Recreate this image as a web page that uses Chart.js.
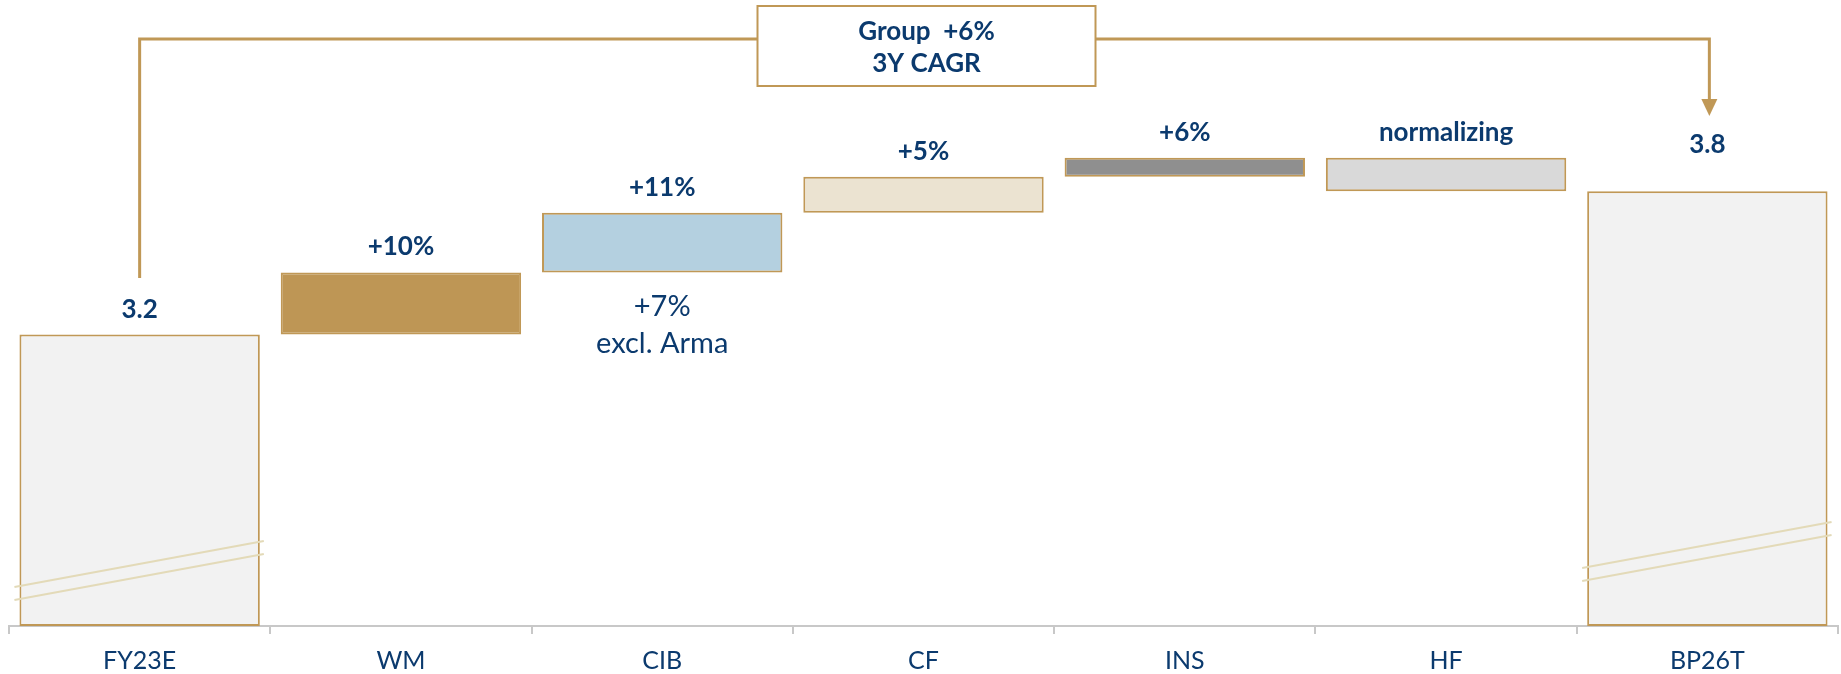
<!DOCTYPE html>
<html>
<head>
<meta charset="utf-8">
<script src="https://cdn.jsdelivr.net/npm/chart.js@4.4.1/dist/chart.umd.min.js"></script>
<style>
  html, body { margin: 0; padding: 0; background: #fff; }
  #wrap { width: 1841px; height: 674px; position: relative; }
</style>
</head>
<body>
<div id="wrap"><canvas id="chart"></canvas></div>
<script>
// data
const categories = ['FY23E', 'WM', 'CIB', 'CF', 'INS', 'HF', 'BP26T'];
const startValue = 3.2;
const deltas = [0.26, 0.25, 0.15, 0.08, -0.14];   // WM, CIB, CF, INS, HF
const endValue = 3.8;
const barLabels = ['3.2', '+10%', '+11%', '+5%', '+6%', 'normalizing', '3.8'];
const cibNote = ['+7%', 'excl. Arma'];
const groupNote = ['Group  +6%', '3Y CAGR'];

const Y_MIN = 1.98;
const Y_MAX = 4.6;

const GOLD = '#c09856';
const NAVY = '#0b3a6e';
const fills = ['#f2f2f2', '#be9655', '#b4d0e0', '#ebe3d1', '#8f8f8f', '#d9d9d9', '#f2f2f2'];

// build floating bars from the running total
const bars = [[Y_MIN, startValue]];
let running = startValue;
deltas.forEach(d => {
  bars.push([running, running + d]);
  running += d;
});
bars.push([Y_MIN, endValue]);

const FONT = 'Lato, "DejaVu Sans", sans-serif';

const labelPlugin = {
  id: 'labels',
  afterDatasetsDraw(chart) {
    const ctx = chart.ctx;
    const meta = chart.getDatasetMeta(0);
    ctx.save();
    ctx.fillStyle = NAVY;
    ctx.textAlign = 'center';
    ctx.textBaseline = 'alphabetic';
    ctx.font = 'bold 26px ' + FONT;
    meta.data.forEach((el, i) => {
      const top = Math.min(el.y, el.base);
      const gap = i === meta.data.length - 1 ? 38 : 17;
      ctx.fillText(barLabels[i], el.x, top - gap);
    });

    // note under CIB
    const cib = meta.data[2];
    const bottom = Math.max(cib.y, cib.base);
    ctx.font = '29px ' + FONT;
    ctx.fillText(cibNote[0], cib.x, bottom + 44);
    ctx.fillText(cibNote[1], cib.x, bottom + 81);

    // axis break marks on the total bars
    ctx.strokeStyle = '#e3dab8';
    ctx.lineWidth = 2;
    [[0, 39], [6, 58]].forEach(([i, dy]) => {
      const el = meta.data[i];
      const l = el.x - el.width / 2 - 5;
      const r = el.x + el.width / 2 + 4;
      for (let k = 0; k < 2; k++) {
        ctx.beginPath();
        ctx.moveTo(l, el.base - dy + k * 13);
        ctx.lineTo(r, el.base - dy - 46 + k * 13);
        ctx.stroke();
      }
    });

    // CAGR bracket
    const first = meta.data[0];
    const last = meta.data[meta.data.length - 1];
    const area = chart.chartArea;
    const cx = (area.left + area.right) / 2 + 3;
    const boxW = 338, boxH = 80, boxTop = 6;
    const lineY = 39;
    ctx.strokeStyle = GOLD;
    ctx.lineWidth = 3;
    ctx.beginPath();
    ctx.moveTo(first.x, 278);
    ctx.lineTo(first.x, lineY);
    ctx.lineTo(cx - boxW / 2, lineY);
    ctx.moveTo(cx + boxW / 2, lineY);
    ctx.lineTo(last.x + 2, lineY);
    ctx.lineTo(last.x + 2, 101);
    ctx.stroke();
    ctx.fillStyle = GOLD;
    ctx.beginPath();
    ctx.moveTo(last.x + 2 - 8, 99);
    ctx.lineTo(last.x + 2 + 8, 99);
    ctx.lineTo(last.x + 2, 116);
    ctx.closePath();
    ctx.fill();

    ctx.fillStyle = '#fff';
    ctx.fillRect(cx - boxW / 2, boxTop, boxW, boxH);
    ctx.lineWidth = 2;
    ctx.strokeRect(cx - boxW / 2, boxTop, boxW, boxH);
    ctx.fillStyle = NAVY;
    ctx.font = 'bold 26px ' + FONT;
    ctx.fillText(groupNote[0], cx, 40);
    ctx.fillText(groupNote[1], cx, 72);
    ctx.restore();
  }
};

new Chart(document.getElementById('chart'), {
  type: 'bar',
  data: {
    labels: categories,
    datasets: [{
      data: bars,
      backgroundColor: fills,
      borderColor: GOLD,
      borderWidth: 2,
      borderSkipped: false,
      barPercentage: 0.92,
      categoryPercentage: 1
    }]
  },
  options: {
    responsive: true,
    maintainAspectRatio: false,
    animation: false,
    layout: { padding: { left: 9, right: 3, top: 0, bottom: 0 } },
    plugins: { legend: { display: false }, tooltip: { enabled: false } },
    scales: {
      x: {
        offset: true,
        afterFit(scale) { scale.height = 48; },
        grid: { display: true, drawOnChartArea: false, tickLength: 8, color: '#c8c8c8', lineWidth: 2 },
        border: { display: true, color: '#c8c8c8', width: 2 },
        ticks: { color: NAVY, font: { family: FONT, size: 25 }, padding: 12 }
      },
      y: { display: false, min: Y_MIN, max: Y_MAX }
    }
  },
  plugins: [labelPlugin]
});
</script>
</body>
</html>
